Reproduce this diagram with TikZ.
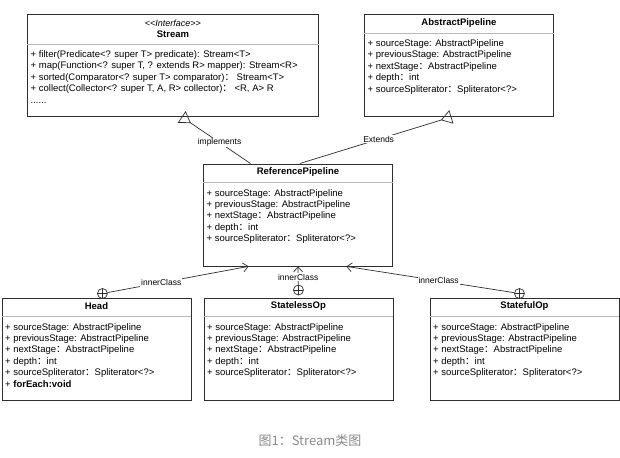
\documentclass[tikz,border=0pt]{standalone}
\usepackage{fontspec}
\setmainfont{Liberation Sans}
\newfontfamily\cjkfont{Noto Sans CJK SC}
\usetikzlibrary{arrows.meta,positioning,calc}
\definecolor{umlline}{HTML}{2E2E2E}
\definecolor{umlrule}{HTML}{B8B8B8}
\definecolor{captiongrey}{HTML}{8A8A8A}
\newcommand{\fcolon}{{\cjkfont ：}}
\tikzset{
  classbox/.style = {draw=umlline, line width=0.9pt, fill=white, minimum width=189pt,
                     minimum height=102pt, inner sep=0pt, anchor=north west},
  stereo/.style   = {font=\fontsize{9}{11}\selectfont\itshape, inner sep=0pt},
  cname/.style    = {font=\fontsize{9.5}{11}\selectfont\bfseries, inner sep=0pt},
  members/.style  = {font=\fontsize{9.5}{11.4}\selectfont, align=left, anchor=north west, inner sep=0pt},
  divider/.style  = {draw=umlrule, line width=0.8pt},
  nest/.style     = {draw=umlline, circle, line width=0.7pt, fill=white, minimum size=10pt, inner sep=0pt,
                     path picture={\draw[umlline, line width=0.7pt]
                       (path picture bounding box.north) -- (path picture bounding box.south)
                       (path picture bounding box.west) -- (path picture bounding box.east);}},
  realize/.style  = {draw=umlline, line width=0.7pt, -{Triangle[open, reversed, length=11pt, width=14pt]}},
  innerof/.style  = {draw=umlline, line width=0.7pt, -{Straight Barb[length=5pt, width=9pt]}},
  lbl/.style      = {font=\fontsize{8.5}{10}\selectfont, fill=white, inner sep=1pt},
  caption/.style  = {font=\cjkfont\fontsize{13}{15}\selectfont, text=captiongrey},
}

\begin{document}
\begin{tikzpicture}[x=1pt, y=-1pt]
  \useasboundingbox (0,0) rectangle (620,457);
  % top row
  \node[classbox, minimum width=291pt] (stream) at (27,14) {};
  \node[stereo] (streamst) at ($(stream.north)+(0,9)$) {<{}<Interface>{}>};
  \node[cname] (streamnm) at ($(stream.north)+(0,20)$) {Stream};
  \draw[divider] ($(stream.north west)+(0,30)$) -- ($(stream.north east)+(0,30)$);
  \node[members] (streamops) at ($(stream.north west)+(3.5,36.5)$)
    {+ filter(Predicate<? super T> predicate): Stream<T>\\
     + map(Function<? super T, ? extends R> mapper): Stream<R>\\
     + sorted(Comparator<? super T> comparator)\fcolon\ Stream<T>\\
     + collect(Collector<? super T, A, R> collector)\fcolon\ <R, A> R\\
     ......};

  \node[classbox] (abspipe) at (364,14) {};
  \node[cname] (abspipenm) at ($(abspipe.north)+(0,9)$) {AbstractPipeline};
  \draw[divider] ($(abspipe.north west)+(0,19)$) -- ($(abspipe.north east)+(0,19)$);
  \node[members] (abspipeattr) at ($(abspipe.north west)+(3.5,25.5)$)
    {+ sourceStage: AbstractPipeline\\
     + previousStage: AbstractPipeline\\
     + nextStage\fcolon AbstractPipeline\\
     + depth\fcolon int\\
     + sourceSpliterator\fcolon Spliterator<?>};

  % middle
  \node[classbox] (refpipe) at (203,163.5) {};
  \node[cname] (refpipenm) at ($(refpipe.north)+(0,9)$) {ReferencePipeline};
  \draw[divider] ($(refpipe.north west)+(0,19)$) -- ($(refpipe.north east)+(0,19)$);
  \node[members] (refpipeattr) at ($(refpipe.north west)+(3.5,25.5)$)
    {+ sourceStage: AbstractPipeline\\
     + previousStage: AbstractPipeline\\
     + nextStage\fcolon AbstractPipeline\\
     + depth\fcolon int\\
     + sourceSpliterator\fcolon Spliterator<?>};

  % bottom row
  \node[classbox] (head) at (1.5,297.5) {};
  \node[cname] (headnm) at ($(head.north)+(0,9)$) {Head};
  \draw[divider] ($(head.north west)+(0,19)$) -- ($(head.north east)+(0,19)$);
  \node[members] (headattr) at ($(head.north west)+(3.5,25.5)$)
    {+ sourceStage: AbstractPipeline\\
     + previousStage: AbstractPipeline\\
     + nextStage\fcolon AbstractPipeline\\
     + depth\fcolon int\\
     + sourceSpliterator\fcolon Spliterator<?>\\
     + \textbf{forEach:void}};

  \node[classbox] (stateless) at (203.5,297.5) {};
  \node[cname] (statelessnm) at ($(stateless.north)+(0,9)$) {StatelessOp};
  \draw[divider] ($(stateless.north west)+(0,19)$) -- ($(stateless.north east)+(0,19)$);
  \node[members] (statelessattr) at ($(stateless.north west)+(3.5,25.5)$)
    {+ sourceStage: AbstractPipeline\\
     + previousStage: AbstractPipeline\\
     + nextStage\fcolon AbstractPipeline\\
     + depth\fcolon int\\
     + sourceSpliterator\fcolon Spliterator<?>};

  \node[classbox] (stateful) at (429.5,297.5) {};
  \node[cname] (statefulnm) at ($(stateful.north)+(0,9)$) {StatefulOp};
  \draw[divider] ($(stateful.north west)+(0,19)$) -- ($(stateful.north east)+(0,19)$);
  \node[members] (statefulattr) at ($(stateful.north west)+(3.5,25.5)$)
    {+ sourceStage: AbstractPipeline\\
     + previousStage: AbstractPipeline\\
     + nextStage\fcolon AbstractPipeline\\
     + depth\fcolon int\\
     + sourceSpliterator\fcolon Spliterator<?>};

  % nesting marks
  \node[nest] (headnest) at ($(head.north)+(6,-4)$) {};
  \node[nest] (statelessnest) at ($(stateless.north)+(0,-7.5)$) {};
  \node[nest] (statefulnest) at ($(stateful.north)+(-5,-4)$) {};

  % generalisation / realisation
  \draw[realize] ($(refpipe.north west)!0.25!(refpipe.north east)$) -- ($(stream.south west)!0.53!(stream.south east)$)
    node[pos=0.45, lbl] {implements};
  \draw[realize] ($(refpipe.north west)!0.51!(refpipe.north east)$) -- ($(abspipe.south west)!0.46!(abspipe.south east)$)
    node[pos=0.52, lbl] {Extends};

  % inner classes
  \draw[innerof] (headnest) -- ($(refpipe.south west)!0.24!(refpipe.south east)$)
    node[pos=0.38, lbl] {innerClass};
  \draw[innerof] (statelessnest) -- (refpipe.south)
    node[pos=0.4, lbl] {innerClass};
  \draw[innerof] (statefulnest) -- ($(refpipe.south west)!0.755!(refpipe.south east)$)
    node[pos=0.45, lbl] {innerClass};

  \node[caption] (cap) at (310,441) {图1：Stream类图};
\end{tikzpicture}
\end{document}
